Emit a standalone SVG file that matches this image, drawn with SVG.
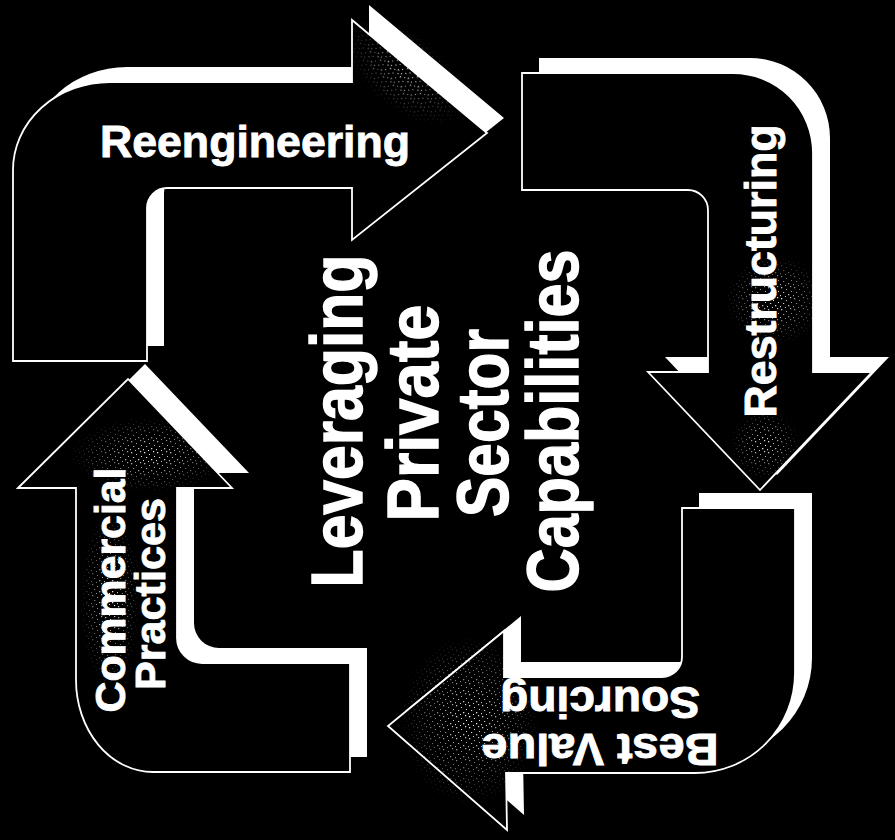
<svg xmlns="http://www.w3.org/2000/svg" xmlns:xlink="http://www.w3.org/1999/xlink" width="895" height="840" viewBox="0 0 895 840">
  <style>
    .shadow { fill: #ffffff; stroke: none; }
    .arrow { fill: #000000; stroke: #ffffff; stroke-width: 1.8; stroke-linejoin: miter; }
    .lbl { font-family: "Liberation Sans", Arial, Helvetica, sans-serif; font-weight: bold; fill: #ffffff; stroke: #ffffff; stroke-width: 0.9; font-size: 45px; text-anchor: middle; }
    .big { font-family: "Liberation Sans", Arial, Helvetica, sans-serif; font-weight: bold; fill: #ffffff; stroke: #ffffff; stroke-width: 1.4; font-size: 73px; text-anchor: middle; }
    .speck { fill: url(#speck); }
  </style>
  <defs>
    <path id="pReeng" d="M13,361 L147,361 L147,208 A20,20 0 0 1 167,188 L352,188 L352,240 L487,133 L352,20 L352,82 L110,82 A97,88 0 0 0 13,170 Z"/>
    <path id="pRestr" d="M522,73 L733,73 A80,80 0 0 1 813,153 L813,372 L872,372 L760,490 L648,372 L708,372 L708,210 A20,20 0 0 0 688,190 L522,190 Z"/>
    <path id="pBest" d="M682,508 L795,508 L795,673 A100,100 0 0 1 695,773 L506,773 L507,830 L388,726 L504,631 L504,677 L662,677 A20,20 0 0 0 682,657 Z"/>
    <path id="pComm" d="M18,488 L128,379 L232,488 L177,488 L177,638 A25,25 0 0 0 202,663 L350,663 L350,772 L153,772 A77,92 0 0 1 76,680 L76,488 Z"/>
    <pattern id="speck" width="13" height="11" patternUnits="userSpaceOnUse">
      <rect x="1" y="1" width="1.3" height="1.3" fill="#fff"/>
      <rect x="6" y="3" width="1" height="1" fill="#fff"/>
      <rect x="10" y="0" width="1.2" height="1.2" fill="#fff"/>
      <rect x="3" y="6" width="1.2" height="1" fill="#fff"/>
      <rect x="8" y="8" width="1.3" height="1.3" fill="#fff"/>
      <rect x="11" y="5" width="1" height="1" fill="#fff"/>
      <rect x="0" y="9" width="1" height="1.2" fill="#fff"/>
      <rect x="5" y="10" width="1" height="1" fill="#fff"/>
    </pattern>
    <radialGradient id="fade">
      <stop offset="0" stop-color="#fff"/>
      <stop offset="1" stop-color="#000"/>
    </radialGradient>
    <mask id="fadeMask" maskContentUnits="objectBoundingBox">
      <rect width="1" height="1" fill="url(#fade)"/>
    </mask>
  </defs>

  <rect width="895" height="840" fill="#000"/>

  <g id="reengineering">
    <use xlink:href="#pReeng" href="#pReeng" class="shadow" transform="translate(17,-15)"/>
    <use xlink:href="#pReeng" href="#pReeng" class="arrow"/>
    <ellipse class="speck" cx="405" cy="72" rx="70" ry="38" transform="rotate(40 405 72)" mask="url(#fadeMask)"/>
    <text class="lbl" x="255" y="157" textLength="310" lengthAdjust="spacingAndGlyphs">Reengineering</text>
  </g>

  <g id="restructuring">
    <use xlink:href="#pRestr" href="#pRestr" class="shadow" transform="translate(17,-15)"/>
    <use xlink:href="#pRestr" href="#pRestr" class="arrow"/>
    <ellipse class="speck" cx="775" cy="300" rx="50" ry="45" mask="url(#fadeMask)"/>
    <ellipse class="speck" cx="765" cy="445" rx="35" ry="35" mask="url(#fadeMask)"/>
    <text class="lbl" transform="translate(776,271) rotate(-90)" x="0" y="0" textLength="293" lengthAdjust="spacingAndGlyphs">Restructuring</text>
  </g>

  <g id="best-value-sourcing">
    <use xlink:href="#pBest" href="#pBest" class="shadow" transform="translate(17,-15)"/>
    <use xlink:href="#pBest" href="#pBest" class="arrow"/>
    <ellipse class="speck" cx="470" cy="720" rx="70" ry="85" mask="url(#fadeMask)"/>
    <g transform="rotate(180 600 710)">
      <text class="lbl" style="font-size:44px" x="600" y="686" textLength="237" lengthAdjust="spacingAndGlyphs">Best Value</text>
      <text class="lbl" style="font-size:44px" x="600" y="733" textLength="200" lengthAdjust="spacingAndGlyphs">Sourcing</text>
    </g>
  </g>

  <g id="commercial-practices">
    <use xlink:href="#pComm" href="#pComm" class="shadow" transform="translate(17,-15)"/>
    <use xlink:href="#pComm" href="#pComm" class="arrow"/>
    <ellipse class="speck" cx="150" cy="455" rx="80" ry="38" mask="url(#fadeMask)"/>
    <ellipse class="speck" cx="110" cy="600" rx="30" ry="90" mask="url(#fadeMask)"/>
    <text class="lbl" style="font-size:43px" transform="translate(125,590) rotate(-90)" x="0" y="0" textLength="245" lengthAdjust="spacingAndGlyphs">Commercial</text>
    <text class="lbl" style="font-size:43px" transform="translate(165,594) rotate(-90)" x="0" y="0" textLength="192" lengthAdjust="spacingAndGlyphs">Practices</text>
  </g>

  <g id="center">
    <text class="big" transform="translate(362,421) rotate(-90)" x="0" y="0" textLength="333" lengthAdjust="spacingAndGlyphs">Leveraging</text>
    <text class="big" transform="translate(438,413) rotate(-90)" x="0" y="0" textLength="217" lengthAdjust="spacingAndGlyphs">Private</text>
    <text class="big" transform="translate(508,423) rotate(-90)" x="0" y="0" textLength="188" lengthAdjust="spacingAndGlyphs">Sector</text>
    <text class="big" transform="translate(578,421) rotate(-90)" x="0" y="0" textLength="343" lengthAdjust="spacingAndGlyphs">Capabilities</text>
  </g>

  <g id="connectors"></g>
</svg>
